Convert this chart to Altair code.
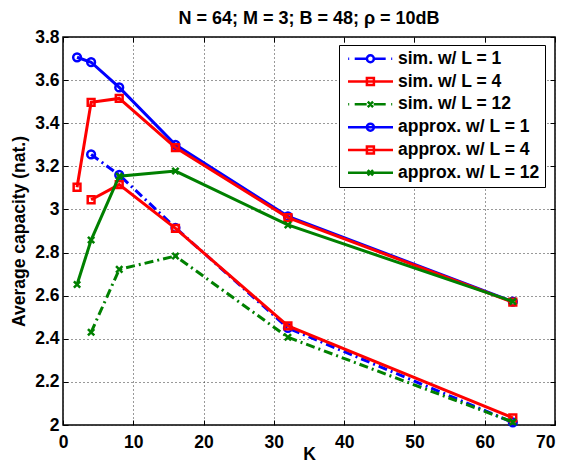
import altair as alt
import pandas as pd

# ---------------- data ----------------
K_sim = [4, 8, 16, 32, 64]
K_approx = [2, 4, 8, 16, 32, 64]

sim_L1 = [3.255, 3.160, 2.915, 2.450, 2.012]
sim_L4 = [3.045, 3.115, 2.912, 2.460, 2.033]
sim_L12 = [2.430, 2.722, 2.784, 2.407, 2.014]
approx_L1 = [3.706, 3.683, 3.566, 3.300, 2.968, 2.572]
approx_L4 = [3.103, 3.497, 3.515, 3.287, 2.962, 2.570]
approx_L12 = [2.652, 2.858, 3.154, 3.178, 2.928, 2.573]

series_names = ["sim. w/ L = 1", "sim. w/ L = 4", "sim. w/ L = 12",
                "approx. w/ L = 1", "approx. w/ L = 4", "approx. w/ L = 12"]
series_k = [K_sim, K_sim, K_sim, K_approx, K_approx, K_approx]
series_vals = [sim_L1, sim_L4, sim_L12, approx_L1, approx_L4, approx_L12]

x_ticks = [0, 10, 20, 30, 40, 50, 60, 70]
y_ticks = [2.0, 2.2, 2.4, 2.6, 2.8, 3.0, 3.2, 3.4, 3.6, 3.8]

title_text = "N = 64; M = 3; B = 48; \u03c1 = 10dB"

rows = []
for name, ks, vals in zip(series_names, series_k, series_vals):
    for k, v in zip(ks, vals):
        rows.append({"series": name, "K": k, "cap": v})
df = pd.DataFrame(rows)

# ---------------- styles ----------------
FONT = "Liberation Sans"
FS = 17.5
series_colors = ["#0000ff", "#ff0000", "#008000", "#0000ff", "#ff0000", "#008000"]
DASHDOT = [9, 4, 2, 4]
series_dash = [DASHDOT, None, DASHDOT, None, None, None]
CROSS = "M-1,-1L1,1M-1,1L1,-1"
series_shape = ["circle", "square", CROSS, "circle", "square", CROSS]
series_msize = [60, 46, 40, 60, 46, 40]


def seg(a, b):
    return f"M{a:.3f},0H{b:.3f}"


def marker_path(kind, cx=2.521):
    if kind == "circle":
        r = 0.5
        return (f"M{cx - r:.3f},0A{r},{r} 0 1,0 {cx + r:.3f},0"
                f"A{r},{r} 0 1,0 {cx - r:.3f},0Z")
    if kind == "square":
        r = 0.5
        return f"M{cx - r:.3f},{-r}H{cx + r:.3f}V{r}H{cx - r:.3f}Z"
    r = 0.38
    return (f"M{cx - r:.3f},{-r}L{cx + r:.3f},{r}"
            f"M{cx - r:.3f},{r}L{cx + r:.3f},{-r}")


solid_line = seg(-0.679, 5.75)
dashdot_line = seg(-0.65, -0.507) + seg(0.279, 1.993) + seg(2.993, 4.707) + seg(5.493, 5.636)
legend_kinds = ["circle", "square", "cross", "circle", "square", "cross"]
legend_paths = [
    (dashdot_line if series_dash[i] else solid_line) + marker_path(legend_kinds[i])
    for i in range(6)
]

color_scale = alt.Scale(domain=series_names, range=series_colors)
x_scale = alt.Scale(domain=[0, 70], nice=False)
y_scale = alt.Scale(domain=[2, 3.8], nice=False, zero=False)

label_kw = dict(labelFont=FONT, labelFontSize=FS, labelFontWeight="bold",
                labelColor="black", labelOverlap=False)
title_kw = dict(titleFont=FONT, titleFontSize=FS, titleFontWeight="bold",
                titleColor="black", titleBaseline="middle")
grid_kw = dict(grid=True, gridColor="#333", gridDash=[1, 3], gridWidth=1)

# main labelled axes (no outward ticks)
x_axis_main = alt.Axis(
    values=x_ticks, format="d", tickSize=0, domain=False, labelFlush=False,
    labelPadding=8,
    labelAlign={"condition": {"test": "datum.value == 70", "value": "right"}, "value": "center"},
    title="K", titleY=29, **grid_kw, **label_kw, **title_kw,
)
y_axis_main = alt.Axis(
    values=y_ticks, format=".1~f", tickSize=0, domain=False, labelPadding=4,
    title="Average capacity (nat.)", titleX=-44, titleY=194,
    **grid_kw, **label_kw, **title_kw,
)


# inward tick-only axes on all four sides
def tick_axis(values, orient):
    return alt.Axis(values=values, orient=orient, offset=-5, tickSize=5,
                    tickWidth=1, tickColor="black", labels=False, domain=False,
                    grid=False, title=None)


base = alt.Chart(df)

leg = alt.Legend(
    title=None, orient="none", legendX=276, legendY=8, padding=5, rowPadding=3.8,
    strokeColor="black", fillColor="white", cornerRadius=0,
    labelFont=FONT, labelFontSize=FS, labelFontWeight="bold", labelColor="black",
    labelOffset=36.5, labelLimit=400, symbolSize=196, symbolStrokeWidth=2.5,
    symbolOpacity=1,
)

# invisible layer carrying the legend (color + legend glyph shapes)
legend_layer = base.mark_point(filled=False, strokeWidth=2.5, opacity=0).encode(
    x=alt.X("K:Q", scale=x_scale, axis=None),
    y=alt.Y("cap:Q", scale=y_scale, axis=None),
    color=alt.Color("series:N", scale=color_scale, legend=leg),
    shape=alt.Shape("series:N", scale=alt.Scale(domain=series_names, range=legend_paths), legend=leg),
)

# invisible layers carrying the axes
axis_layer_main = base.mark_point(opacity=0).encode(
    x=alt.X("K:Q", scale=x_scale, axis=x_axis_main),
    y=alt.Y("cap:Q", scale=y_scale, axis=y_axis_main),
)
axis_layer_ticks1 = base.mark_point(opacity=0).encode(
    x=alt.X("K:Q", scale=x_scale, axis=tick_axis(x_ticks, "bottom")),
    y=alt.Y("cap:Q", scale=y_scale, axis=tick_axis(y_ticks, "left")),
)
axis_layer_ticks2 = base.mark_point(opacity=0).encode(
    x=alt.X("K:Q", scale=x_scale, axis=tick_axis(x_ticks, "top")),
    y=alt.Y("cap:Q", scale=y_scale, axis=tick_axis(y_ticks, "right")),
)

layers = []
for i, name in enumerate(series_names):
    sub = base.transform_filter(alt.datum.series == name)
    x_enc = alt.X("K:Q", scale=x_scale, axis=None)
    y_enc = alt.Y("cap:Q", scale=y_scale, axis=None)
    line_kw = dict(strokeWidth=3, color=series_colors[i])
    if series_dash[i]:
        line_kw["strokeDash"] = series_dash[i]
    layers.append(sub.mark_line(**line_kw).encode(x=x_enc, y=y_enc))
    layers.append(
        sub.mark_point(shape=series_shape[i], filled=False, size=series_msize[i],
                       strokeWidth=2.5, opacity=1, color=series_colors[i])
        .encode(x=x_enc, y=y_enc)
    )

chart = (
    alt.layer(legend_layer, axis_layer_main, axis_layer_ticks1, axis_layer_ticks2, *layers)
    .resolve_axis(x="independent", y="independent")
    .properties(
        width=492, height=388,
        title=alt.Title(title_text, font=FONT, fontSize=18, fontWeight="bold",
                        color="black", anchor="middle", offset=0),
        autosize=alt.AutoSizeParams(type="none"),
        padding={"left": 55, "top": 29, "right": 3, "bottom": 39},
        background="white",
    )
    .configure_view(stroke="black", strokeWidth=1.5)
)

chart.save("out.html", embed_options={"renderer": "svg", "actions": False})
